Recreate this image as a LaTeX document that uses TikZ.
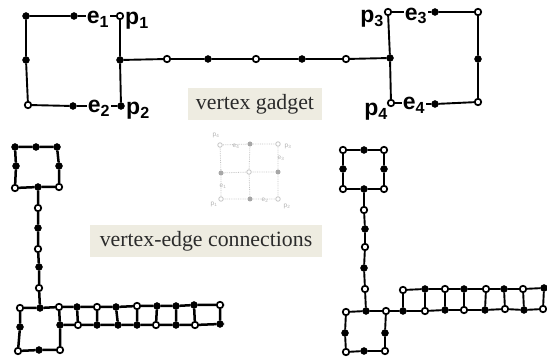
\documentclass[tikz,border=0pt]{standalone}
\usepackage{fontspec}
\setmainfont{Liberation Serif}
\newfontfamily\hand{Liberation Sans}
\definecolor{boxbg}{HTML}{EEECE1}
\definecolor{inktext}{HTML}{2B2B2B}
\definecolor{faded}{HTML}{C4C4C4}
\tikzset{
  dotf/.style={circle,fill=black,draw=black,inner sep=0pt,minimum size=7pt,line width=.4pt},
  doto/.style={circle,fill=white,draw=black,inner sep=0pt,minimum size=6.5pt,line width=1.7pt},
  smf/.style={circle,fill=faded!85!black,draw=none,inner sep=0pt,minimum size=5pt},
  smo/.style={circle,fill=white,draw=faded,inner sep=0pt,minimum size=4.5pt,line width=.8pt},
  wire/.style={line width=1.9pt,black},
  wireb/.style={line width=2.5pt,black},
  smwire/.style={line width=.8pt,faded,densely dotted},
  caption/.style={fill=boxbg,text=inktext,inner sep=0pt,minimum height=32pt,font=\fontsize{21.8}{24}\selectfont},
  lab/.style={font=\hand\bfseries\fontsize{23}{23}\selectfont,inner sep=1pt,text=black},
  smlab/.style={font=\hand\fontsize{6.5}{7}\selectfont,inner sep=.5pt,text=faded!90!black},
}
\begin{document}
\begin{tikzpicture}[x=1pt,y=-1pt]
\useasboundingbox (0,0) rectangle (547,358);
% vertex gadget
\foreach \n/\x/\y in {a1/26/16,a2/74/16,a3/26/60,a4/120/60,a5/73/106,a6/121/106,a7/208/59,a8/302/59,a9/390/58,a10/435/12,a11/478/59,a12/435/104}
  \node[dotf] (\n) at (\x,\y) {};
\foreach \n/\x/\y in {o1/120/16,o2/28/105,o3/167/59,o4/256/59,o5/346/59,o6/388/12,o7/478/12,o8/478/102,o9/391/103}
  \node[doto] (\n) at (\x,\y) {};
\node[lab] (e1) at (98,19) {e\textsubscript{1}};
\node[lab] (e2) at (99,108) {e\textsubscript{2}};
\node[lab] (e3) at (416,16) {e\textsubscript{3}};
\node[lab] (e4) at (414,105) {e\textsubscript{4}};
\node[lab] (p1) at (137,21) {p\textsubscript{1}};
\node[lab] (p2) at (138,111) {p\textsubscript{2}};
\node[lab] (p3) at (372,19) {p\textsubscript{3}};
\node[lab] (p4) at (376,112) {p\textsubscript{4}};
\draw[wire] (a2)--(a1)--(a3)--(o2)--(a5);
\draw[wire] (o1)--(a4)--(a6);
\draw[wire] (a4)--(o3)--(a7)--(o4)--(a8)--(o5)--(a9);
\draw[wire] (o6)--(a9)--(o9);
\draw[wire] (a10)--(o7)--(a11)--(o8)--(a12);
\draw[wire] (a2)--(a2 -| e1.west);
\draw[wire] (o1)--(o1 -| e1.east);
\draw[wire] (a5)--(a5 -| e2.west);
\draw[wire] (a6)--(a6 -| e2.east);
\draw[wire] (o6)--(o6 -| e3.west);
\draw[wire] (a10)--(a10 -| e3.east);
\draw[wire] (o9)--(o9 -| e4.west);
\draw[wire] (a12)--(a12 -| e4.east);
% captions
\node[caption,minimum width=134pt] (c1) at (255,104) {vertex gadget};
\node[caption,minimum width=232pt] (c2) at (206,241) {vertex-edge connections};
% small faded gadget
\foreach \n/\x/\y in {s1/250/144,s2/221/173,s3/278/172,s4/250/199}
  \node[smf] (\n) at (\x,\y) {};
\foreach \n/\x/\y in {t1/220/145,t2/278/144,t3/249/172,t4/221/199,t5/278/199}
  \node[smo] (\n) at (\x,\y) {};
\node[smlab] (sp4) at (216,135) {p\textsubscript{4}};
\node[smlab] (se4) at (236,146) {e\textsubscript{4}};
\node[smlab] (sp3) at (288,146) {p\textsubscript{3}};
\node[smlab] (se3) at (281,158) {e\textsubscript{3}};
\node[smlab] (se1) at (223,186) {e\textsubscript{1}};
\node[smlab] (se2) at (265,200) {e\textsubscript{2}};
\node[smlab] (sp1) at (214,204) {p\textsubscript{1}};
\node[smlab] (sp2) at (287,206) {p\textsubscript{2}};
\draw[smwire] (t1)--(s2)--(t4)--(s4)--(t5)--(s3)--(t2)--(s1)--(t1);
\draw[smwire] (s1)--(t3)--(s4);
\draw[smwire] (s2)--(t3)--(s3);
% left connection figure
\foreach \n/\x/\y in {la1/15/147,la2/36/147,la3/57/147,la4/16/166,la5/59/166,la6/38/187,la7/38/228,la8/39/267,la9/40/308,la10/20/327,la11/39/350,
  lu2/77/307,lu4/116/307,lu6/157/306,lu7/176/306,lu8/194/305,
  ld1/60/325,ld3/97/325,ld4/118/325,ld5/137/325,ld7/176/325,ld9/220/324}
  \node[dotf,minimum size=7pt] (\n) at (\x,\y) {};
\foreach \n/\x/\y in {lo1/15/188,lo2/59/187,lo3/38/208,lo4/38/249,lo5/39/288,lo6/20/308,lo7/18/351,lo8/60/350,
  lu1/59/307,lu3/97/307,lu5/137/306,lu9/220/305,
  ld2/78/325,ld6/156/325,ld8/195/325}
  \node[doto] (\n) at (\x,\y) {};
\coordinate (lend1) at (224,305);
\coordinate (lend2) at (224,324);
\draw[wireb] (la1)--(la2)--(la3)--(la5)--(lo2)--(la6)--(lo1)--(la4)--(la1);
\draw[wireb] (la6)--(lo3)--(la7)--(lo4)--(la8)--(lo5)--(la9);
\draw[wireb] (lo6)--(la9)--(lu1)--(lu2)--(lu3)--(lu4)--(lu5)--(lu6)--(lu7)--(lu8)--(lu9)--(lend1);
\draw[wireb] (lo6)--(la10)--(lo7)--(la11)--(lo8)--(ld1)--(ld2)--(ld3)--(ld4)--(ld5)--(ld6)--(ld7)--(ld8)--(ld9)--(lend2);
\draw[wireb] (lu1)--(ld1) (lu2)--(ld2) (lu3)--(ld3) (lu4)--(ld4) (lu5)--(ld5) (lu6)--(ld6) (lu7)--(ld7) (lu8)--(ld8) (lu9)--(ld9);
% right connection figure
\foreach \n/\x/\y in {ra1/364/150,ra2/343/169,ra3/384/169,ra4/364/189,ra5/365/229,ra6/364/268,ra7/366/311,ra8/345/333,ra9/385/333,ra10/364/351,
  ru2/425/289,ru4/464/289,ru6/504/289,ru8/544/288,
  rd1/403/311,rd3/445/310,rd5/485/310,rd7/524/310}
  \node[dotf,minimum size=7pt] (\n) at (\x,\y) {};
\foreach \n/\x/\y in {ro1/343/150,ro2/384/150,ro3/343/189,ro4/384/189,ro5/364/210,ro6/365/247,ro7/365/289,ro8/346/312,ro9/386/311,ro10/346/352,ro11/385/351,
  ru1/403/290,ru3/445/289,ru5/486/289,ru7/523/289,
  rd2/425/311,rd4/464/310,rd6/505/309,rd8/543/309}
  \node[doto] (\n) at (\x,\y) {};
\coordinate (rend1) at (547,288);
\coordinate (rend2) at (547,309);
\draw[wire] (ro1)--(ra1)--(ro2)--(ra3)--(ro4)--(ra4)--(ro3)--(ra2)--(ro1);
\draw[wire] (ra4)--(ro5)--(ra5)--(ro6)--(ra6)--(ro7)--(ra7);
\draw[wire] (ro8)--(ra7)--(ro9)--(rd1)--(rd2)--(rd3)--(rd4)--(rd5)--(rd6)--(rd7)--(rd8)--(rend2);
\draw[wire] (ro8)--(ra8)--(ro10)--(ra10)--(ro11)--(ra9)--(ro9);
\draw[wire] (ru1)--(ru2)--(ru3)--(ru4)--(ru5)--(ru6)--(ru7)--(ru8)--(rend1);
\draw[wire] (ru1)--(rd1) (ru2)--(rd2) (ru3)--(rd3) (ru4)--(rd4) (ru5)--(rd5) (ru6)--(rd6) (ru7)--(rd7) (ru8)--(rd8);
\end{tikzpicture}
\end{document}
